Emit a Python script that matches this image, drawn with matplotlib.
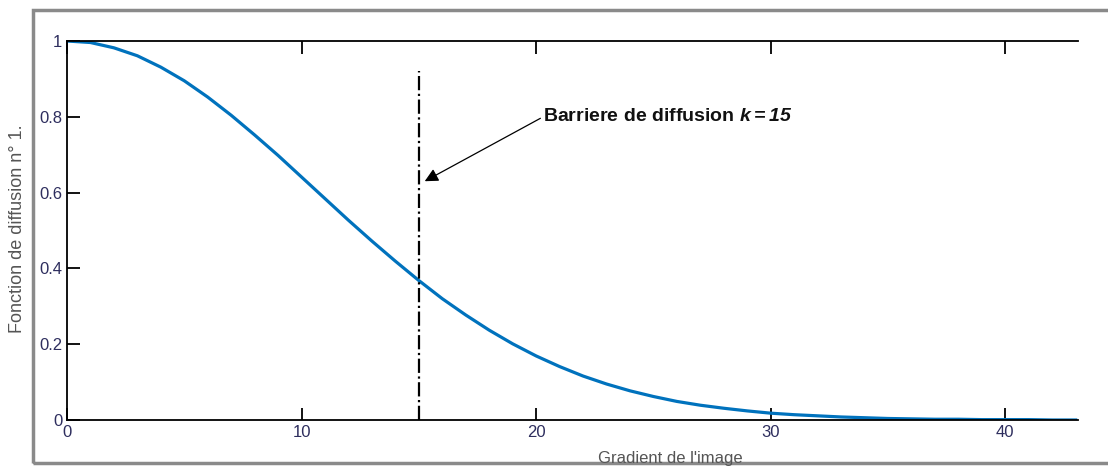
import numpy as np
import matplotlib.pyplot as plt
from matplotlib.patches import Rectangle
from matplotlib.ticker import FormatStrFormatter

plt.rcParams['font.family'] = ['Liberation Sans', 'DejaVu Sans']
plt.rcParams['mathtext.fontset'] = 'custom'
plt.rcParams['mathtext.bfit'] = 'Liberation Sans:italic:bold'

# values, one per unit of gradient
gradient = list(range(0, 44))
diffusion = [1.000, 0.996, 0.982, 0.961, 0.931, 0.895, 0.852, 0.804, 0.752, 0.698,
             0.641, 0.584, 0.527, 0.472, 0.419, 0.368, 0.320, 0.277, 0.237, 0.201,
             0.169, 0.141, 0.116, 0.095, 0.077, 0.062, 0.049, 0.039, 0.031, 0.024,
             0.018, 0.014, 0.011, 0.008, 0.006, 0.004, 0.003, 0.002, 0.002, 0.001,
             0.001, 0.001, 0.000, 0.000]
k = 15
barrier_top = 0.92
x_ticks = [0, 10, 20, 30, 40]
y_ticks = [0, 0.2, 0.4, 0.6, 0.8, 1]

fig = plt.figure(figsize=(11.08, 4.68), dpi=100)
ax = fig.add_axes([67/1108, 48/468, (1078-67)/1108, (420-41)/468])

ax.plot(gradient, diffusion, color='#0072BD', lw=2.3)
ax.plot([k, k], [0, barrier_top], color='black', lw=1.6, ls='-.')

ax.annotate('Barriere de diffusion $\\bfit{k{=}15}$', xy=(15.25, 0.63), xytext=(20.3, 0.80),
            fontsize=14, fontweight='bold', va='center', ha='left', color='#111111',
            arrowprops=dict(arrowstyle='-|>', color='black', lw=0.9,
                            mutation_scale=20, shrinkA=0, shrinkB=0,
                            relpos=(0, 0.5)))

ax.set_xlim(0, 43.1)
ax.set_ylim(0, 1)
ax.set_xticks(x_ticks)
ax.set_yticks(y_ticks)
ax.yaxis.set_major_formatter(FormatStrFormatter('%g'))
ax.tick_params(direction='in', length=9, width=1.3, labelsize=12,
               labelcolor='#2e2e5e', top=True, right=False)
ax.spines['right'].set_visible(False)
for s in ['left', 'bottom', 'top']:
    ax.spines[s].set_linewidth(1.3)

# outer grey frame
fig.patches.append(Rectangle((33/1108, 5/468), 1.2, (463-10)/468,
                             transform=fig.transFigure, fill=False,
                             edgecolor='#8a8a8a', lw=2.5, clip_on=False))

fig.text(18/1108, 1 - 229/468, 'Fonction de diffusion n° 1.', rotation=90,
         ha='center', va='center', fontsize=13, color='#555555')
fig.text(670/1108, 1 - 458/468, "Gradient de l'image", ha='center', va='center',
         fontsize=12, color='#555555')

fig.savefig('out.png', dpi=100)
